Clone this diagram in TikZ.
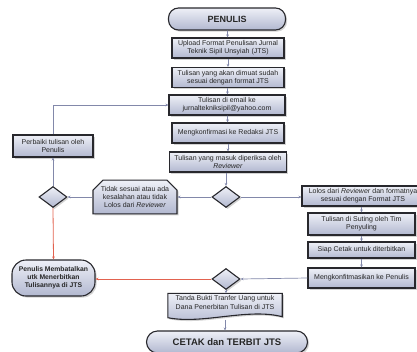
\documentclass[tikz,border=0pt]{standalone}
\usepackage{fontspec}
\setmainfont{Liberation Sans}
\usetikzlibrary{shapes.geometric,shapes.misc,shadows,arrows.meta,backgrounds}
\definecolor{fillbot}{RGB}{178,184,208}
\definecolor{filltop}{RGB}{238,240,247}
\definecolor{lineblue}{RGB}{130,136,170}
\definecolor{linered}{RGB}{226,98,79}
\definecolor{edge}{RGB}{40,40,45}
\begin{document}
\begin{tikzpicture}[x=1pt,y=-1pt,
  boxbase/.style={draw=edge, line width=1.1pt, top color=filltop, bottom color=fillbot,
    drop shadow={shadow xshift=1.6pt, shadow yshift=-1.6pt, opacity=0.35},
    align=center, inner sep=1pt, text=black!85,
    font=\fontsize{7}{8.3}\selectfont},
  proc/.style={boxbase, minimum width=112pt, minimum height=20pt},
  term/.style={boxbase, rounded corners=10pt},
  dec/.style={diamond, boxbase, minimum width=28pt, minimum height=21pt, inner sep=0pt},
  conn/.style={draw=lineblue, line width=0.7pt, -{Stealth[length=3pt,width=2.6pt]}},
  cancelconn/.style={draw=linered, line width=0.8pt, -{Stealth[length=3pt,width=2.6pt]}}
]
\useasboundingbox (0,0) rectangle (417,351);

% central column
\node[term, minimum width=117pt, minimum height=22pt, font=\bfseries\fontsize{9}{10}\selectfont] (pen) at (227,19) {PENULIS};
\node[proc] (b1) at (228,48) {Upload Format Penulisan Jurnal\\Teknik Sipil Unsyiah (JTS)};
\node[proc] (b2) at (228,77.5) {Tulisan yang akan dimuat sudah\\sesuai dengan format JTS};
\node[proc, minimum width=116pt] (b3) at (227,105) {Tulisan di email ke\\jurnaltekniksipil@yahoo.com};
\node[proc] (b4) at (228,133) {Mengkonfirmasi ke Redaksi JTS};
\node[proc, minimum width=117pt] (b5) at (228,162) {Tulisan yang masuk diperiksa oleh\\\textit{Reviewer}};
\node[dec] (dc) at (226,197) {};

% left branch
\node[boxbase, chamfered rectangle, chamfered rectangle corners={north west,north east},
  chamfered rectangle xsep=5pt, chamfered rectangle ysep=5pt,
  minimum width=84pt, minimum height=33pt] (tidak) at (135,197) {Tidak sesuai atau ada\\kesalahan atau tidak\\Lolos dari \textit{Reviewer}};
\node[dec] (dl) at (53,197) {};
\node[proc, minimum width=80pt, minimum height=22pt] (perb) at (53,146) {Perbaiki tulisan oleh\\Penulis};
\node[term, minimum width=83pt, minimum height=36pt, rounded corners=14pt, font=\bfseries\fontsize{6.8}{8}\selectfont] (batal) at (53.5,278) {Penulis Membatalkan\\utk Menerbitkan\\Tulisannya di JTS};

% right branch
\node[proc, minimum width=122pt, minimum height=20pt] (lolos) at (363,196) {Lolos dari \textit{Reviewer} dan formatnya\\sesuai dengan Format JTS};
\node[proc, minimum width=107pt, minimum height=22pt] (suting) at (361.5,224) {Tulisan di Suting oleh Tim\\Penyuling};
\node[proc, minimum width=107pt, minimum height=16pt] (siap) at (361.5,250) {Siap Cetak untuk diterbitkan};
\node[proc, minimum width=107pt, minimum height=20pt] (konf) at (361.5,278) {Mengkonfitmasikan ke Penulis};

% bottom
\node[dec] (db) at (226,279) {};
\node[align=center, inner sep=1pt, text=black!85, font=\fontsize{7}{8.3}\selectfont,
  minimum width=114pt, minimum height=27pt] (doc) at (225,307) {Tanda Bukti Tranfer Uang untuk\\Dana Penerbitan Tulisan di JTS\\[1pt]};
\begin{scope}[on background layer]
\path[draw=edge, line width=1.1pt, top color=filltop, bottom color=fillbot,
    drop shadow={shadow xshift=1.6pt, shadow yshift=-1.6pt, opacity=0.35}]
  (doc.north west) -- (doc.north east) -- ([yshift=4pt]doc.south east)
  .. controls +(-35,-9) and +(35,7) .. ([yshift=3pt]doc.south west) -- cycle;
\end{scope}
\node[term, minimum width=161pt, minimum height=22pt, rounded corners=11pt, font=\bfseries\fontsize{9.5}{11}\selectfont] (cetak) at (227,342) {CETAK dan TERBIT JTS};

% connectors
\draw[conn] (pen) -- (b1);
\draw[conn] (b1) -- (b2);
\draw[conn] (b2) -- (b3);
\draw[conn] (b3) -- (b4);
\draw[conn] (b4) -- (b5);
\draw[conn] (b5.south -| dc.north) -- (dc.north);
\draw[conn] (dc.west) -- (tidak.east);
\draw[conn] (dc.east) -- (lolos.west |- dc.east);
\draw[conn] (tidak.west |- dl.east) -- (dl.east);
\draw[conn] (dl.north) -- (perb.south);
\draw[conn] (perb.north) |- (b3.west);
\draw[cancelconn] (dl.south) -- (batal.north);
\draw[conn] (lolos.south -| suting.north) -- (suting.north);
\draw[conn] (suting) -- (siap);
\draw[conn] (siap) -- (konf);
\draw[conn] (konf.west) -- (db.east);
\draw[cancelconn] (db.west) -- (batal.east |- db.west);
\draw[conn] (db.south) -- (doc.north -| db.south);
\draw[conn] ([yshift=1pt]doc.south) -- (cetak.north -| doc.south);
\end{tikzpicture}
\end{document}
